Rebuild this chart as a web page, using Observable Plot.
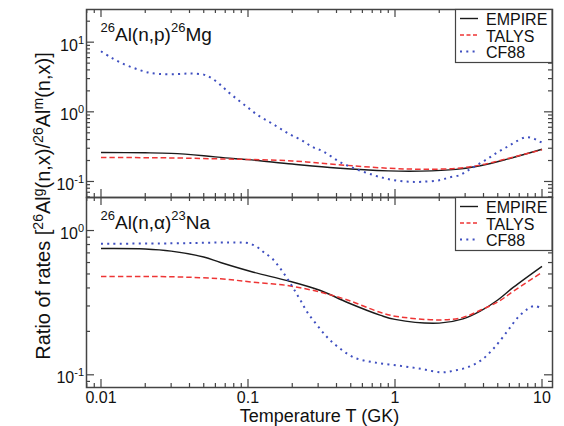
<!DOCTYPE html>
<html><head><meta charset="utf-8">
<script src="https://cdn.jsdelivr.net/npm/d3@7"></script>
<script src="https://cdn.jsdelivr.net/npm/@observablehq/plot@0.6"></script>
<style>
body{margin:0;background:#fff;}
#chart{position:relative;width:564px;height:426px;font-family:"Liberation Sans",Arial,Helvetica,sans-serif;overflow:hidden;background:#fff;}
#chart svg{position:absolute;left:0;overflow:visible;background:none;}
#ylab{position:absolute;width:420px;height:24px;line-height:24px;left:-167px;top:194px;text-align:center;transform:rotate(-90deg);transform-origin:50% 50%;font-size:20px;color:#111;white-space:nowrap;}
#ylab sup{font-size:14px;vertical-align:0.5em;line-height:0;}
</style></head><body>
<div id="chart"><div id="ylab">Ratio of rates [<sup>26</sup>Al<sup>g</sup>(n,x)/<sup>26</sup>Al<sup>m</sup>(n,x)]</div></div>
<script>
// ---------- series meta ----------
const seriesNames = ["EMPIRE", "TALYS", "CF88"];
const seriesColors = ["#1a1a1a", "#ee3535", "#3f4fc0"];
const seriesDash = [null, "5.5,3", "2,4.3"];
const seriesWidth = [1.4, 1.5, 2];

// ---------- top panel: 26Al(n,p)26Mg  [T (GK), ratio] ----------
const npEMPIRE = [[0.01,0.26],[0.02,0.258],[0.03,0.253],[0.05,0.234],[0.07,0.218],[0.1,0.206],[0.2,0.178],[0.4,0.156],[0.9,0.142],[1.5,0.141],[2.6,0.149],[3.8,0.168],[5.8,0.209],[10,0.29]];
const npTALYS = [[0.01,0.221],[0.03,0.218],[0.07,0.21],[0.1,0.207],[0.2,0.197],[0.4,0.175],[0.9,0.155],[1.5,0.15],[2.6,0.154],[3.8,0.172],[5.8,0.213],[10,0.285]];
const npCF88 = [[0.01,7.4],[0.0119,5.9],[0.0143,4.84],[0.0171,4.19],[0.0205,3.7],[0.025,3.5],[0.033,3.48],[0.041,3.55],[0.05,3.42],[0.055,3.15],[0.064,2.5],[0.074,1.9],[0.087,1.44],[0.101,1.13],[0.118,0.88],[0.139,0.72],[0.164,0.583],[0.195,0.468],[0.231,0.393],[0.273,0.315],[0.325,0.27],[0.419,0.192],[0.547,0.15],[0.718,0.123],[0.871,0.11],[1.06,0.102],[1.27,0.099],[1.53,0.099],[2.04,0.105],[2.32,0.114],[2.75,0.123],[3.1,0.142],[3.62,0.172],[4.24,0.21],[4.95,0.26],[5.8,0.315],[6.6,0.37],[7.7,0.43],[8.6,0.42],[9.3,0.39],[10,0.36]];

// ---------- bottom panel: 26Al(n,alpha)23Na ----------
const naEMPIRE = [[0.01,0.75],[0.02,0.745],[0.03,0.72],[0.05,0.655],[0.065,0.6],[0.109,0.514],[0.185,0.45],[0.311,0.384],[0.475,0.317],[0.8,0.258],[1,0.242],[2,0.228],[2.9,0.244],[3.8,0.276],[5,0.33],[6.4,0.405],[10,0.565]];
const naTALYS = [[0.01,0.48],[0.03,0.478],[0.065,0.463],[0.109,0.438],[0.185,0.416],[0.311,0.374],[0.475,0.33],[0.8,0.27],[1,0.255],[2,0.24],[2.9,0.25],[3.8,0.28],[5,0.32],[6.4,0.38],[10,0.513]];
const naCF88 = [[0.01,0.81],[0.03,0.815],[0.06,0.825],[0.09,0.825],[0.1,0.82],[0.115,0.77],[0.128,0.707],[0.146,0.64],[0.166,0.545],[0.185,0.465],[0.204,0.396],[0.228,0.327],[0.253,0.272],[0.296,0.22],[0.346,0.182],[0.413,0.155],[0.524,0.132],[0.717,0.122],[1.04,0.116],[1.5,0.11],[2.06,0.104],[2.54,0.107],[3.13,0.113],[3.85,0.126],[4.76,0.155],[5.86,0.203],[6.86,0.25],[8.03,0.287],[8.9,0.3],[10,0.287]];

// ---------- axes ----------
const xDomain = [10 ** -2.0986, 10 ** 1.0714];
const xMajor = [0.01, 0.1, 1, 10];
const xTickLabels = ["0.01", "0.1", "1", "10"];
const xTitle = "Temperature T (GK)";
const yDomainTop = [10 ** -1.23, 10 ** 1.469];
const yMajorTop = [0.1, 1, 10];
const yTickLabelsTop = ["10^{-1}", "10^{0}", "10^{1}"];
const yDomainBot = [10 ** -1.088, 10 ** 0.229];
const yMajorBot = [0.1, 1];
const yTickLabelsBot = ["10^{-1}", "10^{0}"];
const labelTop = "^{26}Al(n,p)^{26}Mg";
const labelBot = "^{26}Al(n,\u03b1)^{23}Na";

const FONT = '"Liberation Sans", Arial, Helvetica, sans-serif';
const FRAME = "#444";

function isMajor(v, majors) { return majors.some(m => Math.abs(Math.log10(v) - Math.log10(m)) < 1e-6); }

function richText(el, str, supSize, shift) {
  const t = d3.select(el);
  t.text(null);
  const re = /\^\{([^}]*)\}|[^^]+/g;
  let m, up = false;
  while ((m = re.exec(str))) {
    if (m[1] !== undefined) {
      const ts = t.append("tspan").attr("font-size", supSize).text(m[1]);
      if (!up) { ts.attr("dy", -shift); up = true; }
    } else {
      const ts = t.append("tspan").text(m[0]);
      if (up) { ts.attr("dy", shift); up = false; }
    }
  }
}

function panel({series, yDomain, yMajor, yLabels, label, height, marginTop, marginBottom, showX}) {
  const W = 564, ML = 86, MR = 12;
  const plotH = height - marginTop - marginBottom, plotW = W - ML - MR;
  const xAll = d3.scaleLog().domain(xDomain).ticks();
  const yAll = d3.scaleLog().domain(yDomain).ticks();
  const xMinor = xAll.filter(v => !isMajor(v, xMajor));
  const yMinor = yAll.filter(v => !isMajor(v, yMajor));
  const yLabelMap = new Map(yMajor.map((v, i) => [v, yLabels[i]]));
  const xLabelMap = new Map(xMajor.map((v, i) => [v, xTickLabels[i]]));
  const tk = {stroke: FRAME, strokeWidth: 1.2};
  const MAJ = 8, MIN = 4;
  const marks = [
    ...series.map((data, i) => Plot.line(data, {x: d => d[0], y: d => d[1], stroke: seriesColors[i], strokeWidth: seriesWidth[i], strokeDasharray: seriesDash[i], strokeLinecap: "butt", curve: "catmull-rom", clip: true})),
    Plot.tickX(xMajor, {x: d => d, insetTop: plotH - MAJ, ...tk}),
    Plot.tickX(xMinor, {x: d => d, insetTop: plotH - MIN, ...tk}),
    Plot.tickX(xMajor, {x: d => d, insetBottom: plotH - MAJ, ...tk}),
    Plot.tickX(xMinor, {x: d => d, insetBottom: plotH - MIN, ...tk}),
    Plot.tickY(yMajor, {y: d => d, insetRight: plotW - MAJ, ...tk}),
    Plot.tickY(yMinor, {y: d => d, insetRight: plotW - MIN, ...tk}),
    Plot.tickY(yMajor, {y: d => d, insetLeft: plotW - MAJ, ...tk}),
    Plot.tickY(yMinor, {y: d => d, insetLeft: plotW - MIN, ...tk}),
    Plot.frame({stroke: FRAME, strokeWidth: 1.5}),
    Plot.axisY(yMajor, {anchor: "left", tickSize: 0, tickPadding: 2.5, dy: 3.5, fontSize: 16, fill: "#111", tickFormat: d => yLabelMap.get(d)}),
    Plot.text([label], {frameAnchor: "top-left", textAnchor: "start", lineAnchor: "bottom", dx: 14, dy: 31.7, fontSize: 19, fill: "#111"})
  ];
  if (showX) {
    marks.push(Plot.axisX(xMajor, {anchor: "bottom", tickSize: 0, tickPadding: 4, fontSize: 16, fill: "#111", tickFormat: d => xLabelMap.get(d)}));
    marks.push(Plot.text([xTitle], {frameAnchor: "bottom", lineAnchor: "bottom", dy: 34, fontSize: 18, fill: "#111"}));
  }
  const svg = Plot.plot({
    width: W, height, marginLeft: ML, marginRight: MR, marginTop, marginBottom,
    style: {fontFamily: FONT, background: "none", overflow: "visible"},
    x: {type: "log", domain: xDomain, axis: showX ? undefined : null},
    y: {type: "log", domain: yDomain},
    marks
  });
  d3.select(svg).selectAll('g[aria-label="y-axis tick label"] text').each(function() { richText(this, this.textContent, 11, 7); });
  d3.select(svg).selectAll("text").filter(function() { return this.textContent === label; }).each(function() { richText(this, label, 13, 9); });
  const g = d3.select(svg).append("g").attr("font-family", FONT).attr("font-size", 16).attr("fill", "#111").attr("text-anchor", "start");
  g.append("rect").attr("x", 455.5).attr("y", marginTop + 0.5).attr("width", 96.5).attr("height", 53)
    .attr("fill", "white").attr("stroke", FRAME).attr("stroke-width", 1.2);
  seriesNames.forEach((n, i) => {
    const y = marginTop + 9.5 + i * 16.5;
    g.append("line").attr("x1", 460).attr("x2", 478).attr("y1", y).attr("y2", y)
      .attr("stroke", seriesColors[i]).attr("stroke-width", seriesWidth[i])
      .attr("stroke-dasharray", i === 1 ? "4,2.5" : seriesDash[i]);
    g.append("text").attr("x", 486).attr("y", y + 6.7).attr("text-anchor", "start").text(n);
  });
  return svg;
}

const chartEl = document.getElementById("chart");
const topSvg = panel({series: [npEMPIRE, npTALYS, npCF88], yDomain: yDomainTop, yMajor: yMajorTop, yLabels: yTickLabelsTop, label: labelTop, height: 200, marginTop: 9, marginBottom: 3, showX: false});
topSvg.style.top = "0px";
const botSvg = panel({series: [naEMPIRE, naTALYS, naCF88], yDomain: yDomainBot, yMajor: yMajorBot, yLabels: yTickLabelsBot, label: labelBot, height: 231, marginTop: 2, marginBottom: 39, showX: true});
botSvg.style.top = "195px";
chartEl.appendChild(topSvg);
chartEl.appendChild(botSvg);
</script>
</body></html>
